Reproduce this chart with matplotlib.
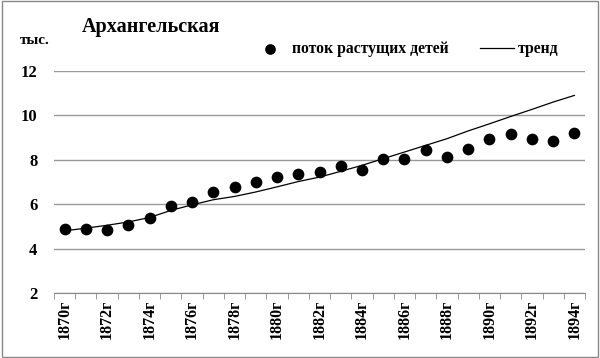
import matplotlib.pyplot as plt
from matplotlib.patches import Rectangle

# -----------------------------
# Data
# -----------------------------
years = list(range(1870, 1895))
flow = [4.86, 4.86, 4.83, 5.08, 5.38, 5.93, 6.12, 6.55, 6.77, 6.99,
        7.23, 7.38, 7.45, 7.71, 7.55, 8.05, 8.05, 8.45, 8.12, 8.5,
        8.95, 9.14, 8.94, 8.85, 9.21]
trend = [4.8, 4.92, 5.05, 5.2, 5.4, 5.72, 5.97, 6.2, 6.35, 6.55,
         6.78, 7.02, 7.22, 7.48, 7.75, 8.05, 8.35, 8.65, 8.95, 9.3,
         9.62, 9.95, 10.27, 10.6, 10.9]
tick_labels = [f"{y}г" for y in years]
y_ticks = [2, 4, 6, 8, 10, 12]

plt.rcParams['font.family'] = ['Liberation Serif', 'DejaVu Serif']

fig = plt.figure(figsize=(6, 3.58), dpi=100)
ax = fig.add_axes([0.09, 0.1816, 0.885, 0.6201])

x = list(range(len(years)))
ax.plot(x, trend, color='black', linewidth=0.9, label='тренд', zorder=3)
ax.scatter(x, flow, s=55, color='black', label='поток растущих детей', zorder=4)

ax.set_xlim(-0.5, len(years) - 0.5)
ax.set_ylim(2, 12)
ax.set_yticks(y_ticks)
ax.set_yticklabels([str(v) for v in y_ticks], fontsize=12, fontweight='bold')
ax.tick_params(axis='y', length=0, pad=12)

ax.set_xticks(x[::2])
ax.set_xticklabels(tick_labels[::2], rotation=90, fontsize=11.5, fontweight='bold')
ax.tick_params(axis='x', which='major', length=0, pad=5)
ax.set_xticks([i - 0.5 for i in range(len(years) + 1)], minor=True)
ax.tick_params(axis='x', which='minor', length=4, color='#888888', direction='out')

ax.grid(axis='y', color='#999999', linewidth=1.0)
ax.set_axisbelow(True)
for side in ['left', 'right', 'top']:
    ax.spines[side].set_visible(False)
ax.spines['bottom'].set_color('#888888')

fig.text(82 / 600, 1 - 27 / 358, 'Архангельская', fontsize=14.5, fontweight='bold',
         ha='left', va='center')
fig.text(20 / 600, 1 - 40 / 358, 'тыс.', fontsize=11, fontweight='bold',
         ha='left', va='center')

handles, labels = ax.get_legend_handles_labels()
fig.legend(handles[::-1], labels[::-1], loc='center', ncol=2,
           bbox_to_anchor=(406 / 600, 1 - 49 / 358), frameon=False,
           prop={'weight': 'bold', 'size': 11.3}, columnspacing=2.0,
           handlelength=2.2, handletextpad=0.25, markerscale=0.9)

fig.patches.append(Rectangle((0.003, 0.003), 0.994, 0.994, transform=fig.transFigure,
                             fill=False, edgecolor='#888888', linewidth=1.0))

fig.savefig('out.png', dpi=100)
